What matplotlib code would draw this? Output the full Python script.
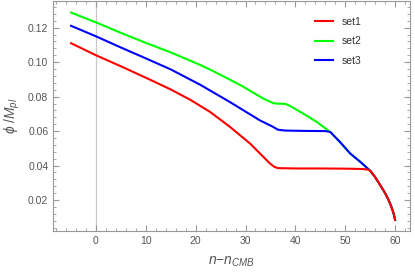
import matplotlib
matplotlib.use("Agg")
import matplotlib.pyplot as plt
from matplotlib.ticker import MultipleLocator

# values
n1 = [-5, 0, 5, 10.8, 14.9, 18.9, 22.9, 26.9, 30.9, 32.9, 34.9, 35.8, 36.5, 40, 45, 50, 53.5, 54.6,
      55, 56, 57, 58, 58.7, 59.2, 59.7, 60]
phi1 = [0.1110, 0.1040, 0.0976, 0.0899, 0.0843, 0.0782, 0.0711, 0.0624, 0.0528, 0.0470, 0.0412, 0.0392,
        0.0385, 0.0383, 0.0383, 0.0382, 0.0380, 0.0376, 0.0370, 0.0333, 0.0287, 0.0240, 0.0200, 0.0165,
        0.0123, 0.0085]

n2 = [-5, 0, 5, 10, 14.9, 20.9, 23.4, 29.1, 33.6, 35.6, 36.5, 38, 39, 41.6, 44.3, 47, 49, 51, 53,
      55, 56, 57, 58, 58.7, 59.2, 59.7, 60]
phi2 = [0.1288, 0.1231, 0.1170, 0.1112, 0.1058, 0.0984, 0.0950, 0.0865, 0.0788, 0.0762, 0.0759, 0.0758,
        0.0745, 0.0701, 0.0653, 0.0595, 0.0535, 0.0470, 0.0422, 0.0370, 0.0333, 0.0287, 0.0240, 0.0200,
        0.0165, 0.0123, 0.0085]

n3 = [-5, 0, 5, 10, 15, 20.9, 26.9, 32.9, 35.5, 36.5, 38, 42, 46, 47, 49, 51, 53,
      55, 56, 57, 58, 58.7, 59.2, 59.7, 60]
phi3 = [0.1211, 0.1150, 0.1085, 0.1022, 0.0958, 0.0869, 0.0768, 0.0662, 0.0625, 0.0608, 0.0603, 0.0601,
        0.0600, 0.0595, 0.0535, 0.0470, 0.0422, 0.0370, 0.0333, 0.0287, 0.0240, 0.0200, 0.0165, 0.0123, 0.0085]

labels = ["set1", "set2", "set3"]
colors = ["#ff0000", "#00ff00", "#0000ff"]

plt.rcParams['font.family'] = ['Liberation Sans', 'DejaVu Sans']
plt.rcParams['mathtext.fontset'] = 'custom'
plt.rcParams['mathtext.it'] = 'Liberation Sans:italic'
plt.rcParams['mathtext.rm'] = 'Liberation Sans'

gray = "#555555"
fig = plt.figure(figsize=(4.15, 2.77), dpi=100)
ax = fig.add_axes([0.128, 0.166, 0.86, 0.831])

ax.axvline(0, color="#c8c8c8", lw=0.9, zorder=0)
# set1 on top, as in the reference
for xs, ys, c, lab, z in zip([n1, n2, n3], [phi1, phi2, phi3], colors, labels, [4, 2, 3]):
    ax.plot(xs, ys, color=c, lw=1.5, label=lab, zorder=z, solid_joinstyle="round")

ax.set_xlim(-8.6, 63)
ax.set_ylim(0.002, 0.1356)
ax.xaxis.set_major_locator(MultipleLocator(10))
ax.xaxis.set_minor_locator(MultipleLocator(2))
ax.yaxis.set_minor_locator(MultipleLocator(0.004))
ax.set_yticks([0.02, 0.04, 0.06, 0.08, 0.10, 0.12])
ax.set_yticklabels(["0.02", "0.04", "0.06", "0.08", "0.10", "0.12"])

ax.tick_params(which="both", direction="in", top=True, right=True, colors="#999999",
               labelcolor=gray, labelsize=7.5)
ax.tick_params(which="major", length=4, width=0.8)
ax.tick_params(which="minor", length=2, width=0.6)
for s in ax.spines.values():
    s.set_color("#999999")
    s.set_linewidth(0.8)

ax.set_xlabel(r"$n\mathrm{-}n_{CMB}$", color=gray, fontsize=10, labelpad=6)
ax.set_ylabel(r"$\phi\ /M_{pl}$", color=gray, fontsize=10, labelpad=4)

ax.legend(loc="upper right", frameon=False, fontsize=7.5, handlelength=1.7, labelspacing=0.9,
          bbox_to_anchor=(0.89, 0.97), labelcolor="#333333")

fig.savefig("out.png", dpi=100)
